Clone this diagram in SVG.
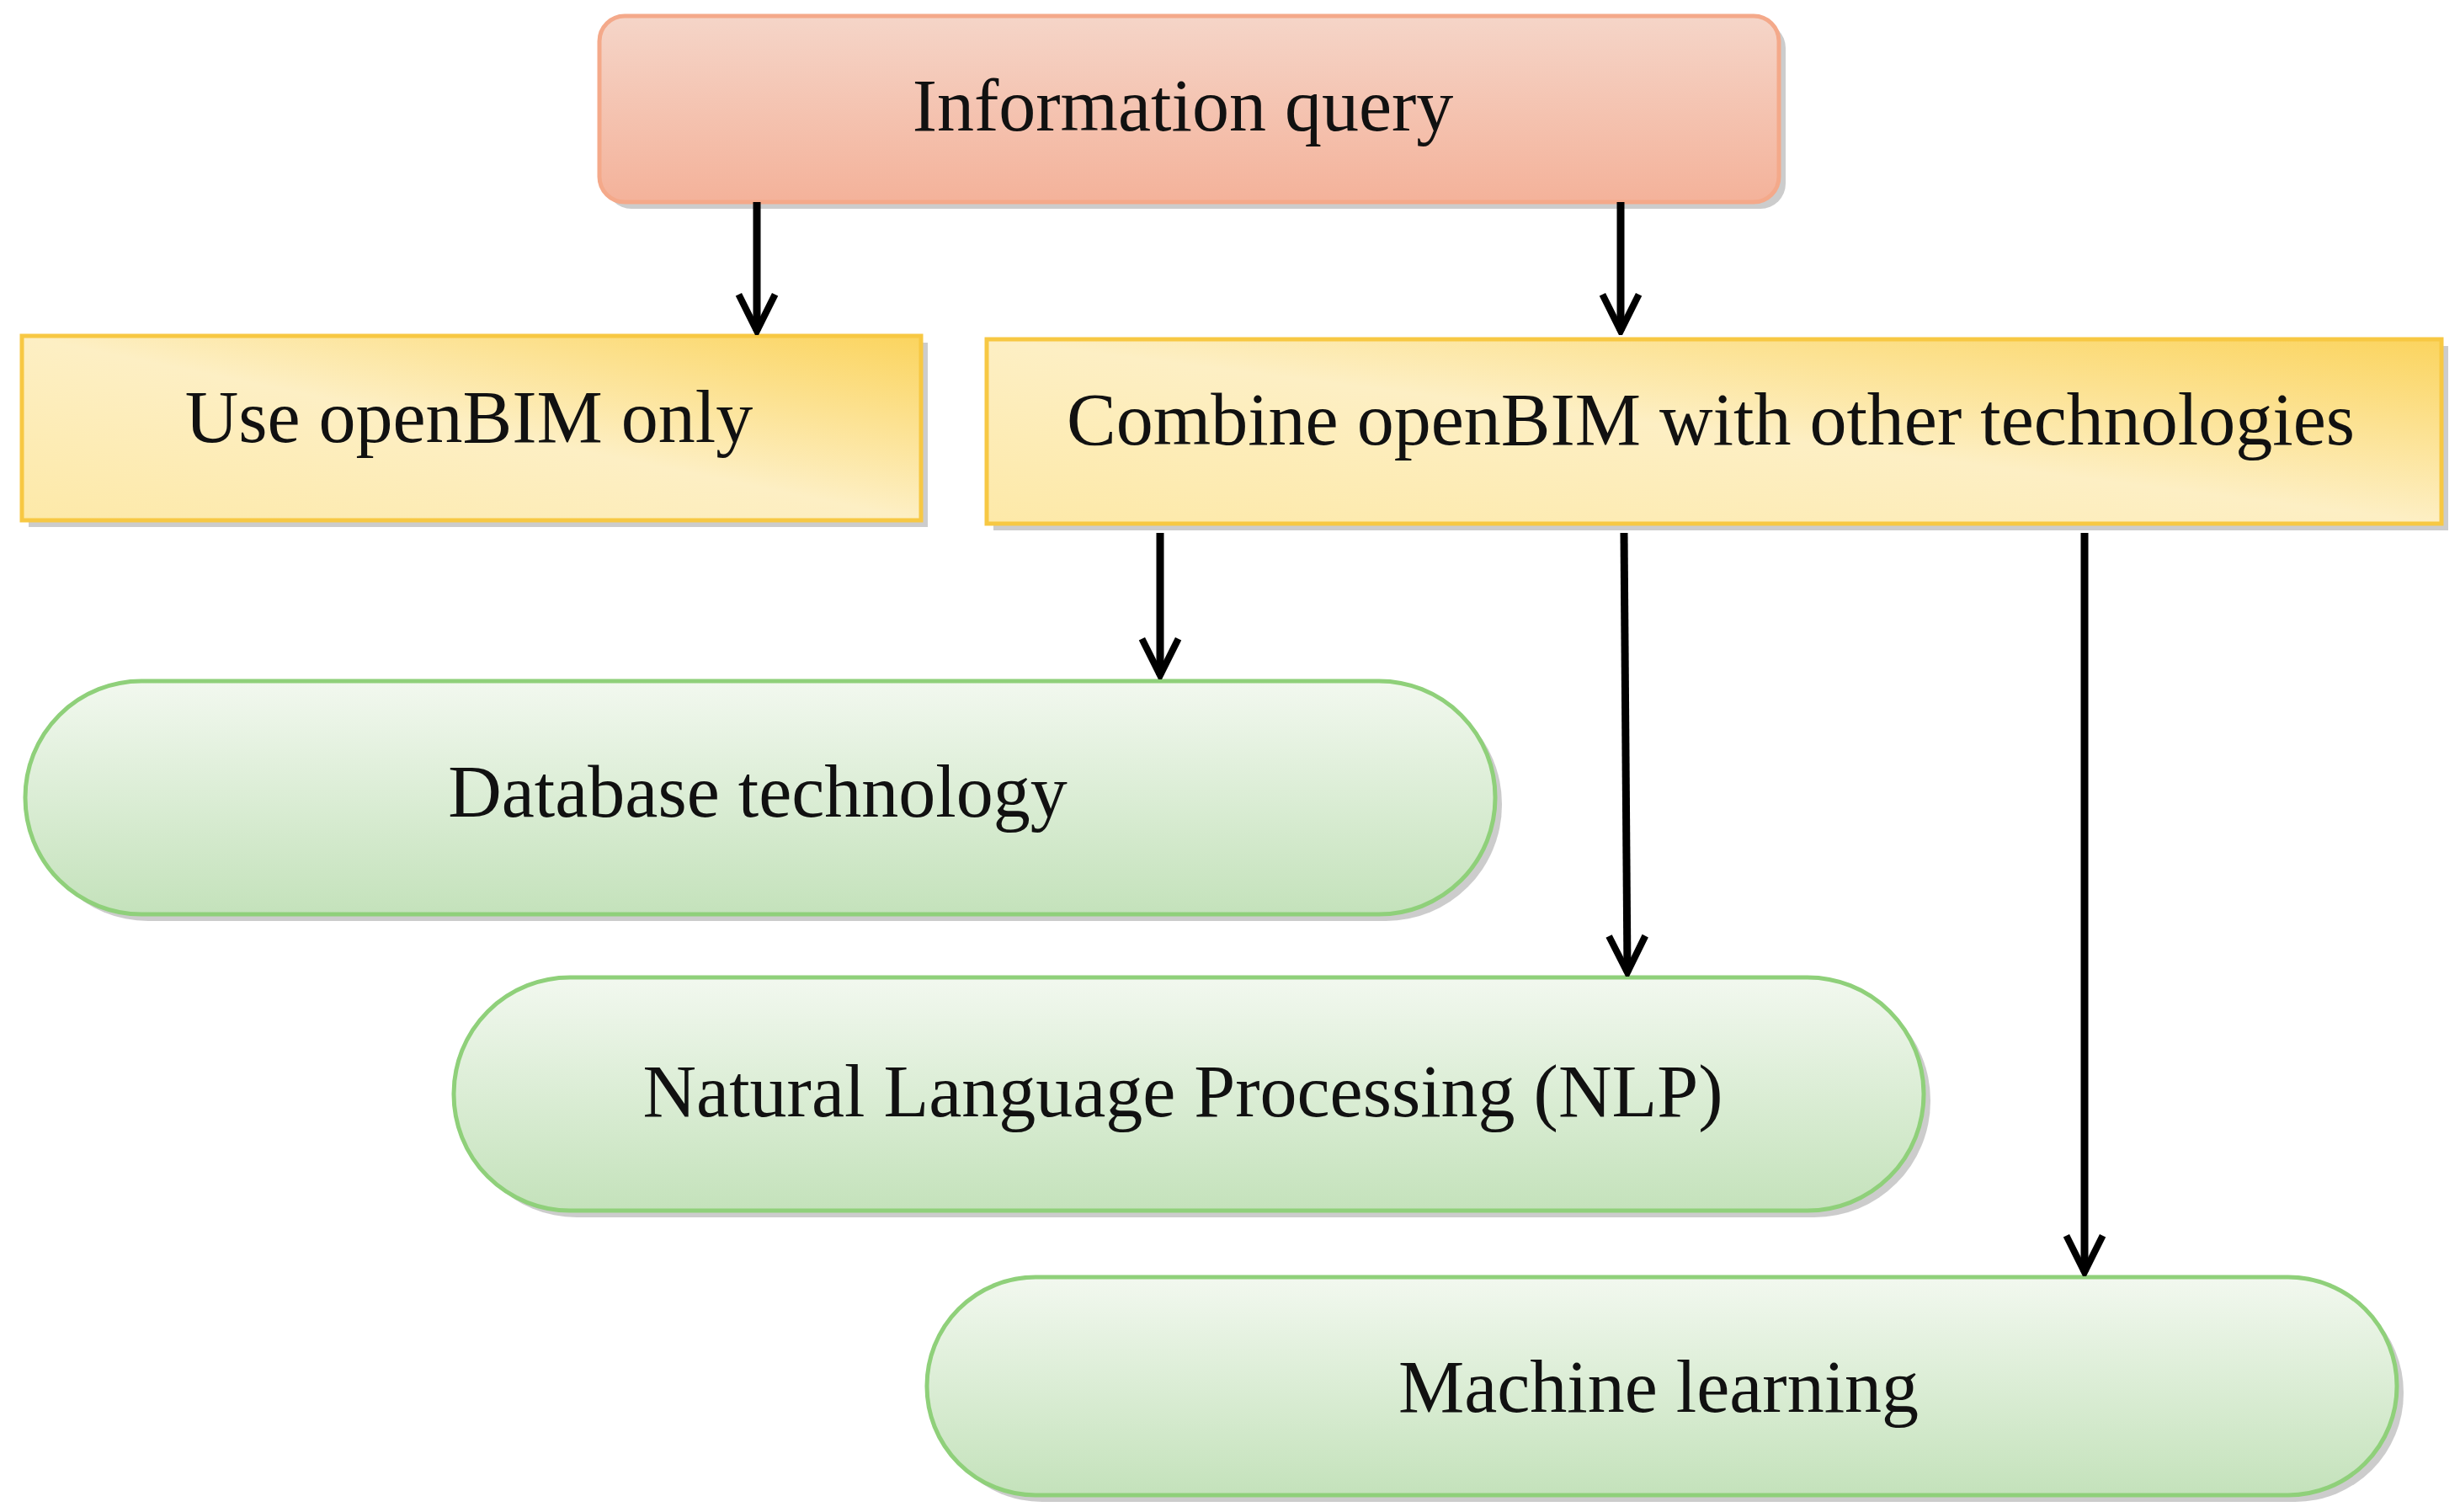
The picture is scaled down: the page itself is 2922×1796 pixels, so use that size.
<svg xmlns="http://www.w3.org/2000/svg" width="2922" height="1796" viewBox="0 0 2922 1796">
<defs>
<linearGradient id="gTop" x1="0" y1="0" x2="0" y2="1"><stop offset="0" stop-color="#f5d5c8"/><stop offset="1" stop-color="#f4b29a"/></linearGradient>
<linearGradient id="gY" x1="0" y1="1" x2="1" y2="0"><stop offset="0" stop-color="#fde9a8"/><stop offset="0.5" stop-color="#fdefc4"/><stop offset="1" stop-color="#fbd45e"/></linearGradient>
<linearGradient id="gG" x1="0" y1="0" x2="0" y2="1"><stop offset="0" stop-color="#f2f8ef"/><stop offset="1" stop-color="#c4e2bb"/></linearGradient>
<marker id="ah" viewBox="0 0 20 20" refX="18" refY="10" markerWidth="6" markerHeight="6" orient="auto" markerUnits="strokeWidth"><path d="M2,2 L18,10 L2,18" fill="none" stroke="#000" stroke-width="3"/></marker>
</defs>
<style>
text{font-family:"Liberation Serif",serif;font-size:88px;fill:#111;text-anchor:middle;dominant-baseline:central}
.sh{fill:#aaa;opacity:.6}
.c{stroke:#000;stroke-width:9;fill:none;marker-end:url(#ah)}
</style>
<rect width="2922" height="1796" fill="#fff"/>
<g id="top"><rect x="720" y="27" width="1401" height="221" rx="30" class="sh"/><rect x="712" y="19" width="1401" height="221" rx="30" fill="url(#gTop)" stroke="#f4a98a" stroke-width="5"/><text x="1405" y="125">Information query</text></g>
<g id="use"><rect x="34" y="407" width="1068" height="219" class="sh"/><rect x="26" y="399" width="1068" height="219" fill="url(#gY)" stroke="#f7c843" stroke-width="5"/><text x="557" y="495">Use openBIM only</text></g>
<g id="combine"><rect x="1180" y="411" width="1728" height="219" class="sh"/><rect x="1172" y="403" width="1728" height="219" fill="url(#gY)" stroke="#f7c843" stroke-width="5"/><text x="2032" y="498">Combine openBIM with other technologies</text></g>
<g id="db"><rect x="38" y="817" width="1746" height="277" rx="138" class="sh"/><rect x="30" y="809" width="1746" height="277" rx="138" fill="url(#gG)" stroke="#8fd07a" stroke-width="5"/><text x="900" y="940">Database technology</text></g>
<g id="nlp"><rect x="547" y="1169" width="1746" height="277" rx="138" class="sh"/><rect x="539" y="1161" width="1746" height="277" rx="138" fill="url(#gG)" stroke="#8fd07a" stroke-width="5"/><text x="1405" y="1296">Natural Language Processing (NLP)</text></g>
<g id="ml"><rect x="1109" y="1525" width="1746" height="259" rx="129" class="sh"/><rect x="1101" y="1517" width="1746" height="259" rx="129" fill="url(#gG)" stroke="#8fd07a" stroke-width="5"/><text x="1970" y="1647">Machine learning</text></g>
<g id="connectors">
<line class="c" x1="899" y1="240" x2="899" y2="393"/>
<line class="c" x1="1925" y1="240" x2="1925" y2="393"/>
<line class="c" x1="1378" y1="633" x2="1378" y2="802"/>
<line class="c" x1="1929" y1="633" x2="1933" y2="1155"/>
<line class="c" x1="2476" y1="633" x2="2476" y2="1511"/>
</g>
</svg>
